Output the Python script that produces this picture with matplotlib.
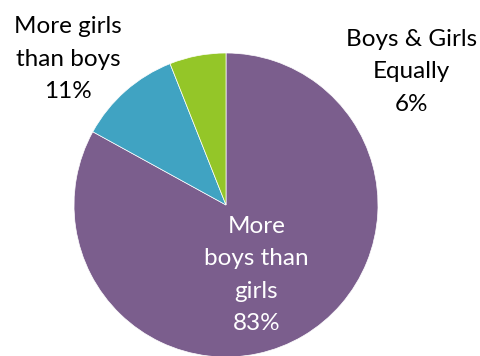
import matplotlib
matplotlib.use('Agg')
import matplotlib.pyplot as plt

# share of responses per category
categories = ['More boys than girls', 'More girls than boys', 'Boys & Girls Equally']
shares = [83, 11, 6]
colors = ['#7B5E8D', '#40A3C2', '#94C628']
label_text = ['More\nboys than\ngirls\n83%', 'More girls\nthan boys\n11%', 'Boys & Girls\nEqually\n6%']

plt.rcParams['font.family'] = ['Lato', 'DejaVu Sans']

fig = plt.figure(figsize=(4.8, 3.56), dpi=100)
ax = fig.add_axes([74 / 480, -1 / 356, 304 / 480, 304 / 356])
ax.pie(shares, colors=colors, startangle=90, counterclock=False, radius=1,
       wedgeprops=dict(linewidth=0.5, edgecolor='white'))
ax.set_xlim(-1, 1)
ax.set_ylim(-1, 1)
ax.set_aspect('equal')
ax.axis('off')

# label positions in pie units
label_pos = [(0.2, -0.46), (-1.04, 0.96), (1.22, 0.875)]
label_col = ['white', 'black', 'black']
for txt, (x, y), c in zip(label_text, label_pos, label_col):
    ax.text(x, y, txt, ha='center', va='center', fontsize=17.5, color=c,
            linespacing=1.68, clip_on=False)

fig.savefig('out.png', dpi=100)
